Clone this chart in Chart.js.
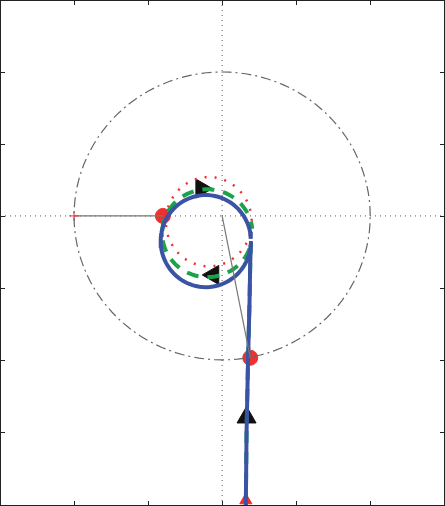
<!DOCTYPE html>
<html>
<head>
<meta charset="UTF-8">
<style>
  html, body { margin: 0; padding: 0; background: #fff; }
  #wrap { width: 445px; height: 506px; }
</style>
</head>
<body>
<div id="wrap"><canvas id="c"></canvas></div>
<script src="https://cdn.jsdelivr.net/npm/chart.js"></script>
<script>
  // axis ranges and tick positions (data units)
  const xRange = [-3, 3.01];
  const yRange = [-4.03, 3];
  const xTicks = [-2, -1, 0, 1, 2];
  const yTicks = [-3, -2, -1, 0, 1, 2];

  // vertical approach segment (bottom -> loop)
  const stemX = [0.32, 0.33, 0.35, 0.37, 0.38, 0.39];
  const stemY = [-4.03, -3.0, -2.0, -1.2, -0.64, -0.35];

  // circles: [cx, cy, rx, ry]
  const bigCircle = [0, 0, 2, 2];
  const blueLoop = [-0.22, -0.35, 0.61, 0.64];
  const greenLoop = [-0.2, -0.24, 0.61, 0.61];
  const redLoop = [-0.18, -0.08, 0.58, 0.62];

  // markers
  const dots = [{x: -0.8, y: 0}, {x: 0.38, y: -1.97}];
  const startTri = [{x: 0.32, y: -3.95}];
  const arrows = [
    {x: -0.28, y: 0.38, r: 90},
    {x: -0.12, y: -0.82, r: -90},
    {x: 0.33, y: -2.8, r: 0}
  ];
  const hRay = [{x: -2, y: 0}, {x: -0.8, y: 0}];
  const dRay = [{x: 0, y: 0}, {x: 0.38, y: -1.97}];

  function ring(c, a0, a1, n) {
    const pts = [];
    for (let i = 0; i <= n; i++) {
      const a = a0 + (a1 - a0) * i / n;
      pts.push({x: c[0] + c[2] * Math.cos(a), y: c[1] + c[3] * Math.sin(a)});
    }
    return pts;
  }
  const stem = stemX.map((x, i) => ({x, y: stemY[i]}));
  // clockwise on screen = decreasing angle
  const bluePath = stem.concat(ring(blueLoop, 0, -2 * Math.PI + 0.05, 80));
  const greenPath = stem.concat(ring(greenLoop, -0.2, -2 * Math.PI + 0.1, 80));
  const redPath = stem.concat(ring(redLoop, -0.3, -2 * Math.PI, 80));

  const frame = {
    id: 'frame',
    beforeDatasetsDraw(chart) {
      const {ctx, chartArea: a, scales: {x, y}} = chart;
      ctx.save();
      ctx.strokeStyle = '#555';
      ctx.lineWidth = 1;
      ctx.setLineDash([1, 4]);
      const x0 = x.getPixelForValue(0), y0 = y.getPixelForValue(0);
      ctx.beginPath();
      ctx.moveTo(x0, a.top); ctx.lineTo(x0, a.bottom);
      ctx.moveTo(a.left, y0); ctx.lineTo(a.right, y0);
      ctx.stroke();
      ctx.restore();
    },
    afterDraw(chart) {
      const {ctx, chartArea: a, scales: {x, y}} = chart;
      ctx.save();
      ctx.strokeStyle = '#222';
      ctx.lineWidth = 1;
      ctx.strokeRect(a.left + 0.5, a.top + 0.5, a.right - a.left - 1, a.bottom - a.top - 1);
      ctx.beginPath();
      xTicks.forEach(v => {
        const p = Math.round(x.getPixelForValue(v)) + 0.5;
        ctx.moveTo(p, a.top); ctx.lineTo(p, a.top + 5);
        ctx.moveTo(p, a.bottom); ctx.lineTo(p, a.bottom - 5);
      });
      yTicks.forEach(v => {
        const p = Math.round(y.getPixelForValue(v)) + 0.5;
        ctx.moveTo(a.left, p); ctx.lineTo(a.left + 5, p);
        ctx.moveTo(a.right, p); ctx.lineTo(a.right - 5, p);
      });
      ctx.stroke();
      ctx.restore();
    }
  };

  new Chart(document.getElementById('c'), {
    type: 'scatter',
    data: {
      datasets: [
        {data: ring(bigCircle, 0, 2 * Math.PI, 120), showLine: true, borderColor: '#666', borderWidth: 1.2, borderDash: [10, 4, 2, 4], pointRadius: 0},
        {data: hRay, showLine: true, borderColor: '#777', borderWidth: 1.2, pointRadius: [5, 0], pointStyle: 'cross', pointBorderColor: '#e33', pointBorderWidth: 1},
        {data: dRay, showLine: true, borderColor: '#777', borderWidth: 1.2, pointRadius: 0},
        {data: bluePath, showLine: true, borderColor: '#3a53a4', borderWidth: 4, pointRadius: 0},
        {data: greenPath, showLine: true, borderColor: '#1aa34a', borderWidth: 4, borderDash: [12, 9], pointRadius: 0},
        {data: redPath, showLine: true, borderColor: '#ee3030', borderWidth: 2.5, borderDash: [2, 8], pointRadius: 0},
        {data: arrows, pointStyle: 'triangle', pointRadius: 11, rotation: arrows.map(a => a.r), backgroundColor: '#111', borderColor: '#111'},
        {data: dots, pointRadius: 7.5, backgroundColor: '#ee3030', borderColor: '#ee3030'},
        {data: startTri, pointStyle: 'triangle', pointRadius: 7, backgroundColor: '#ee3030', borderColor: '#ee3030'}
      ]
    },
    options: {
      responsive: true,
      maintainAspectRatio: false,
      animation: false,
      layout: {padding: 0, autoPadding: false},
      plugins: {legend: {display: false}, tooltip: {enabled: false}},
      scales: {
        x: {min: xRange[0], max: xRange[1], display: false},
        y: {min: yRange[0], max: yRange[1], display: false}
      }
    },
    plugins: [frame]
  });
</script>
</body>
</html>
